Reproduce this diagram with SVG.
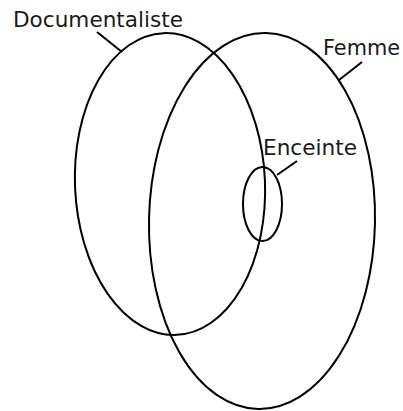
<svg xmlns="http://www.w3.org/2000/svg" width="403" height="411" viewBox="0 0 403 411">
<style>
.set{fill:none;stroke:#000;stroke-width:2}
.lead{stroke:#000;stroke-width:2;fill:none}
text{font-family:"DejaVu Sans","Liberation Sans",sans-serif;font-size:22px;fill:#1a1a1a}
</style>
<rect width="403" height="411" fill="#fff"/>
<g id="documentaliste">
<ellipse class="set" cx="170" cy="184" rx="95" ry="151" transform="rotate(-2.5 170 184)"/>
<text x="13" y="27" textLength="170" lengthAdjust="spacingAndGlyphs">Documentaliste</text>
</g>
<g id="femme">
<ellipse class="set" cx="262" cy="221" rx="113" ry="188" transform="rotate(1.2 262 221)"/>
<text x="323" y="55" textLength="77" lengthAdjust="spacingAndGlyphs">Femme</text>
</g>
<g id="enceinte">
<ellipse class="set" cx="262.5" cy="204" rx="19.5" ry="37"/>
<text x="263" y="155" textLength="94" lengthAdjust="spacingAndGlyphs">Enceinte</text>
</g>
<g id="connectors">
<line class="lead" x1="97" y1="32" x2="122" y2="52"/>
<line class="lead" x1="362" y1="62" x2="339" y2="80"/>
<line class="lead" x1="297" y1="161" x2="277" y2="175"/>
</g>
</svg>
